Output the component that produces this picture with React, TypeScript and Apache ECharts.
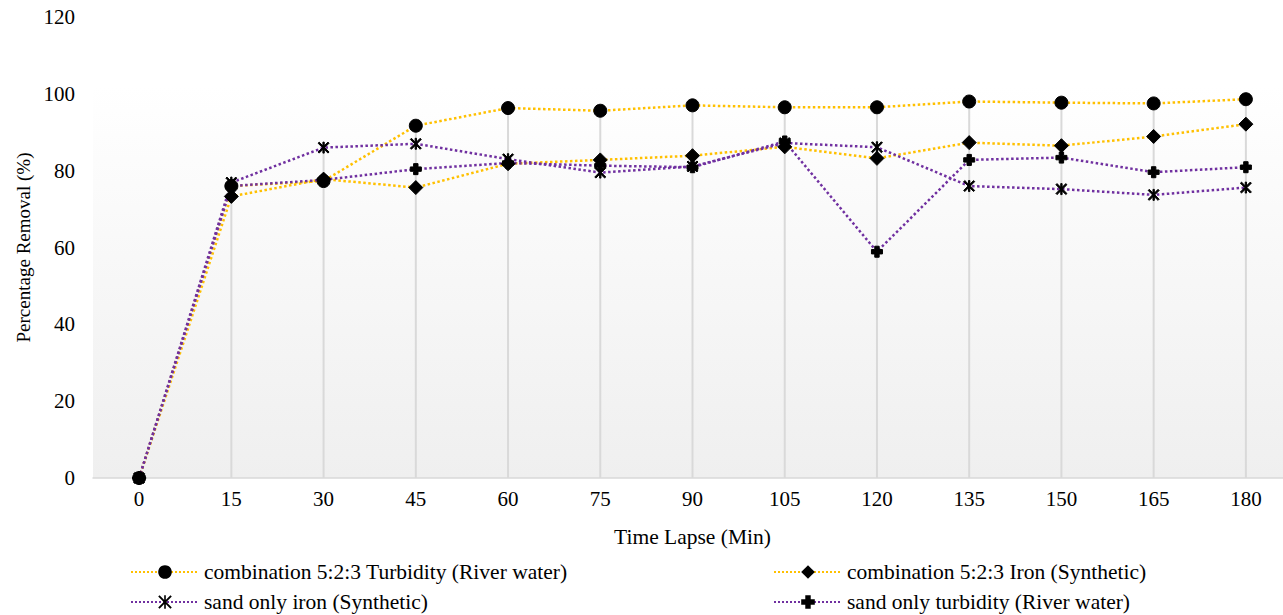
import React, { useEffect, useRef } from "react";
import * as echarts from "echarts";

const categories = ["0", "15", "30", "45", "60", "75", "90", "105", "120", "135", "150", "165", "180"];
const yTicks = [0, 20, 40, 60, 80, 100, 120];

const comboTurbidity = [0, 76.0, 77.3, 91.7, 96.3, 95.6, 97.0, 96.5, 96.5, 98.0, 97.7, 97.5, 98.6];
const comboIron = [0, 73.3, 77.8, 75.6, 81.8, 82.8, 83.9, 86.2, 83.2, 87.3, 86.5, 88.9, 92.1];
const sandIron = [0, 76.9, 86.0, 87.0, 83.0, 79.5, 81.1, 87.2, 86.1, 76.0, 75.2, 73.7, 75.6];
const sandTurbidity = [0, 76.0, 77.6, 80.4, 82.0, 81.3, 80.9, 87.6, 58.9, 82.8, 83.4, 79.6, 80.9];

const seriesNames = [
  "combination 5:2:3 Turbidity (River water)",
  "combination 5:2:3 Iron (Synthetic)",
  "sand only iron (Synthetic)",
  "sand only turbidity (River water)",
];

const YELLOW = "#FFC000";
const PURPLE = "#7030A0";
const FONT = "Liberation Serif";

const STAR =
  "path://M1,0 L5,4 L9,0 L10,1 L6,5 L10,9 L9,10 L5,6 L1,10 L0,9 L4,5 L0,1 Z M4.4,0 L5.6,0 L5.6,10 L4.4,10 Z";
const PLUS = "path://M3,0 L7,0 L7,3 L10,3 L10,7 L7,7 L7,10 L3,10 L3,7 L0,7 L0,3 L3,3 Z";

export default function App() {
  const ref = useRef<HTMLDivElement>(null);
  useEffect(() => {
    document.body.style.margin = "0";
    document.body.style.overflow = "hidden";
    if (!ref.current) return;
    const chart = echarts.init(ref.current, null, { renderer: "svg" });
    const dropData = categories.map((_, i) =>
      Math.max(comboTurbidity[i], comboIron[i], sandIron[i], sandTurbidity[i])
    );
    const lineSeries = (name: string, data: number[], color: string, symbol: string, size: number) => ({
      name,
      type: "line",
      data,
      symbol,
      symbolSize: size,
      showAllSymbol: true,
      z: 3,
      lineStyle: { color, width: 2.5, type: "dotted" },
      itemStyle: { color: "#000", borderColor: "#000" },
      emphasis: { disabled: true },
    });
    const legendText = { fontFamily: FONT, fontSize: 21.5, color: "#000" };
    const legendBase = {
      orient: "horizontal",
      itemWidth: 68,
      itemHeight: 17,
      padding: 0,
      textStyle: legendText,
      selectedMode: false,
    };
    chart.setOption({
      animation: false,
      grid: {
        left: 93,
        top: 17,
        width: 1199,
        height: 461,
        show: true,
        borderWidth: 0,
        backgroundColor: new echarts.graphic.LinearGradient(0, 0, 0, 1, [
          { offset: 0, color: "#ffffff" },
          { offset: 0.15, color: "#ffffff" },
          { offset: 1, color: "#efefef" },
        ]),
      },
      legend: [
        { ...legendBase, data: [seriesNames[0]], left: 130, top: 561 },
        { ...legendBase, data: [seriesNames[1]], left: 773, top: 561 },
        { ...legendBase, data: [seriesNames[2]], left: 130, top: 591 },
        { ...legendBase, data: [seriesNames[3]], left: 773, top: 591 },
      ],
      xAxis: {
        type: "category",
        data: categories,
        boundaryGap: true,
        name: "Time Lapse (Min)",
        nameLocation: "middle",
        nameGap: 48,
        nameTextStyle: { fontFamily: FONT, fontSize: 21.5, color: "#000" },
        axisLine: { lineStyle: { color: "#d9d9d9", width: 1.5 } },
        axisTick: { show: false },
        axisLabel: { fontFamily: FONT, fontSize: 21, color: "#000", margin: 10 },
        splitLine: { show: false },
      },
      yAxis: {
        type: "value",
        min: yTicks[0],
        max: yTicks[yTicks.length - 1],
        interval: 20,
        name: "Percentage Removal (%)",
        nameLocation: "middle",
        nameGap: 60,
        nameRotate: 90,
        nameTextStyle: { fontFamily: FONT, fontSize: 19, color: "#000" },
        axisLine: { show: false },
        axisTick: { show: false },
        axisLabel: { fontFamily: FONT, fontSize: 21, color: "#000", margin: 18 },
        splitLine: { show: false },
      },
      series: [
        {
          name: "drop",
          type: "bar",
          data: dropData,
          barWidth: 2,
          z: 1,
          itemStyle: { color: "#d9d9d9" },
          emphasis: { disabled: true },
        },
        lineSeries(seriesNames[0], comboTurbidity, YELLOW, "circle", 13),
        lineSeries(seriesNames[1], comboIron, YELLOW, "diamond", 14),
        lineSeries(seriesNames[2], sandIron, PURPLE, STAR, 11),
        lineSeries(seriesNames[3], sandTurbidity, PURPLE, PLUS, 11),
      ],
    });
    return () => chart.dispose();
  }, []);
  return <div ref={ref} style={{ width: 1300, height: 615 }} />;
}
